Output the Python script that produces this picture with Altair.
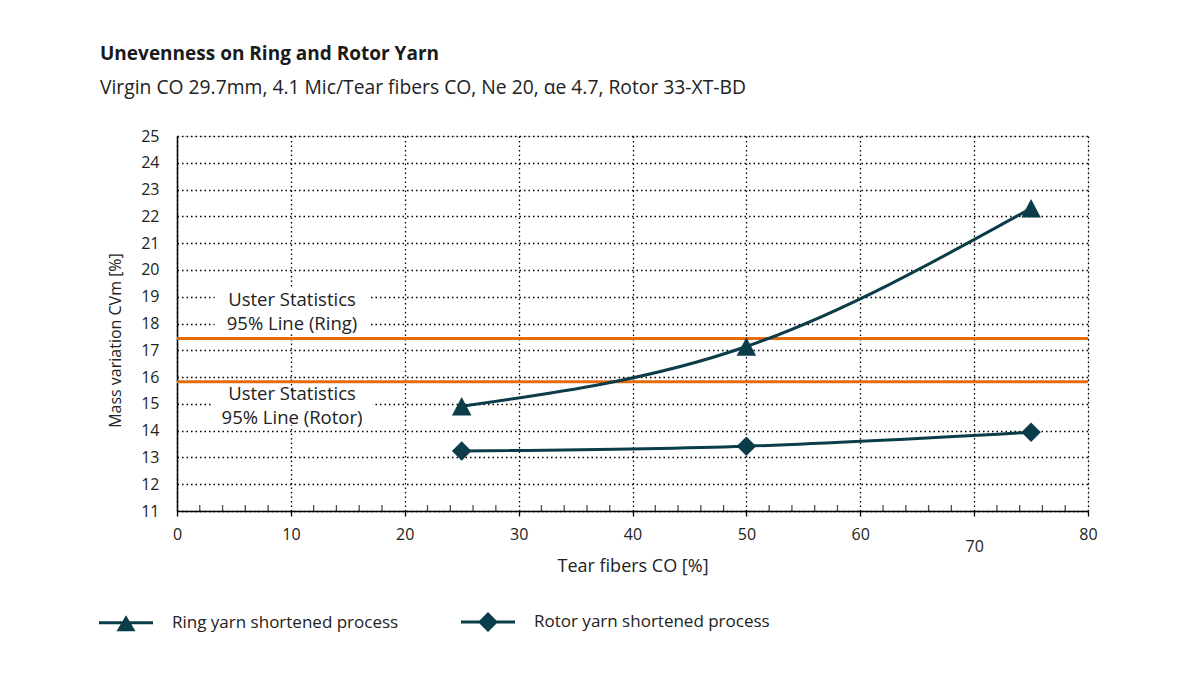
import altair as alt
import pandas as pd

# ---- data ----
tear_pct = [25, 50, 75]
ring_cv = [14.91, 17.14, 22.30]
rotor_cv = [13.24, 13.42, 13.94]
series_names = ["Ring yarn shortened process", "Rotor yarn shortened process"]

uster_values = [17.44, 15.83]
uster_lines = ["Uster Statistics", "95% Line (Ring)", "Uster Statistics", "95% Line (Rotor)"]
line_x = [10.1, 10.1, 10.1, 10.1]
line_y = [18.87, 17.99, 15.36, 14.46]
box_x1 = [3.3, 3.1]
box_x2 = [16.8, 17.2]
box_y1 = [17.62, 14.2]
box_y2 = [19.3, 15.45]

x_ticks = [0, 10, 20, 30, 40, 50, 60, 70, 80]
x_minor = [v for v in range(2, 80, 2) if v % 10 != 0]
y_ticks = list(range(11, 26))

TEAL = "#0b3c49"
ORANGE = "#e46c0a"
FONT = "Open Sans"

rows = []
for name, vals in zip(series_names, [ring_cv, rotor_cv]):
    for x, y in zip(tear_pct, vals):
        rows.append({"series": name, "x": x, "y": y})
df = pd.DataFrame(rows)

rules_df = pd.DataFrame({"y": uster_values})
boxes_df = pd.DataFrame({"x1": box_x1, "x2": box_x2, "y1": box_y1, "y2": box_y2})
text_df = pd.DataFrame({"x": line_x, "y": line_y, "text": uster_lines})
minor_df = pd.DataFrame({"x": x_minor, "y": [11] * len(x_minor)})

xscale = alt.Scale(domain=[0, 80], nice=False, zero=False)
yscale = alt.Scale(domain=[11, 25], nice=False, zero=False)

xaxis = alt.Axis(values=x_ticks, title="Tear fibers CO [%]", grid=True,
                 gridColor="#000", gridDash=[1.5, 3], gridWidth=1.3,
                 tickColor="#000", tickSize=5, tickWidth=1.3,
                 domainColor="#000", domainWidth=1.5,
                 labelFont=FONT, labelFontSize=16, labelColor="#222",
                 labelPadding={"condition": {"test": "datum.value == 70", "value": 22}, "value": 10},
                 labelOverlap=False, tickCount=len(x_ticks),
                 titleFont=FONT, titleFontSize=18, titleFontWeight="normal", titleColor="#222",
                 titlePadding=3, labelFlush=False)
yaxis = alt.Axis(values=y_ticks, title="Mass variation CVm [%]", grid=True,
                 gridColor="#000", gridDash=[1.5, 3], gridWidth=1.3,
                 ticks=False, domainColor="#000", domainWidth=1.5,
                 labelFont=FONT, labelFontSize=16, labelColor="#222", labelPadding=18,
                 labelOverlap=False, tickCount=len(y_ticks),
                 titleFont=FONT, titleFontSize=16, titleFontWeight="normal", titleColor="#222",
                 titlePadding=17, titleY=204, labelFlush=False)

X = lambda f: alt.X(f, scale=xscale, axis=xaxis)
Y = lambda f: alt.Y(f, scale=yscale, axis=yaxis)

boxes = alt.Chart(boxes_df).mark_rect(color="white").encode(
    x=X("x1:Q"), x2="x2:Q", y=Y("y1:Q"), y2="y2:Q")

texts = alt.Chart(text_df).mark_text(font=FONT, fontSize=18.5, color="#222",
                                      align="center", baseline="middle").encode(
    x=X("x:Q"), y=Y("y:Q"), text="text:N")

rules = alt.Chart(rules_df).mark_rule(color=ORANGE, strokeWidth=3).encode(y=Y("y:Q"))

minor = alt.Chart(minor_df).mark_tick(color="#000", size=6, thickness=1.3, yOffset=-3,
                                      orient="vertical").encode(x=X("x:Q"), y=Y("y:Q"))

lines = alt.Chart(df).mark_line(interpolate="natural", color=TEAL, strokeWidth=3).encode(
    x=X("x:Q"), y=Y("y:Q"), detail="series:N")

tri_path = "M0,-0.95L1,0.95L-1,0.95Z"
leg_tri = "M-2.7,-0.15L2.7,-0.15L2.7,0.15L-2.7,0.15ZM0,-0.75L0.95,0.85L-0.95,0.85Z"
leg_dia = "M-2.7,-0.15L2.7,-0.15L2.7,0.15L-2.7,0.15ZM0,-1L1,0L0,1L-1,0Z"

points = alt.Chart(df).mark_point(filled=True, opacity=1, size=380, color=TEAL).encode(
    x=X("x:Q"), y=Y("y:Q"),
    shape=alt.Shape("series:N",
                    scale=alt.Scale(domain=series_names, range=[tri_path, "diamond"]),
                    legend=None))

legend_layer = alt.Chart(df).mark_point(filled=True, color=TEAL, opacity=0, size=1).encode(
    x=X("x:Q"), y=Y("y:Q"),
    shape=alt.Shape("series:N",
                    scale=alt.Scale(domain=series_names, range=[leg_tri, leg_dia]),
                    legend=alt.Legend(
                        title=None, orient="none", direction="horizontal",
                        legendX=-62, legendY=475, symbolSize=400,
                        labelFont=FONT, labelFontSize=17, labelColor="#222", labelLimit=0,
                        labelOffset=35, columnPadding=59, padding=0,
                        symbolFillColor=TEAL, symbolOpacity=1)))

chart = alt.layer(boxes, texts, rules, minor, lines, legend_layer, points).resolve_scale(
    shape="independent"
).properties(
    width=911, height=375,
    title=alt.TitleParams(
        "Unevenness on Ring and Rotor Yarn",
        subtitle="Virgin CO 29.7mm, 4.1 Mic/Tear fibers CO, Ne 20, αe 4.7, Rotor 33-XT-BD",
        anchor="start", frame="group", dx=-77, offset=30,
        font=FONT, fontSize=19, fontWeight="bold", color="#1a1a1a",
        subtitleFont=FONT, subtitleFontSize=19.3, subtitleColor="#222", subtitlePadding=15),
    autosize=alt.AutoSizeParams(type="none"),
    padding={"left": 177, "top": 136, "right": 112, "bottom": 164},
).configure_view(stroke="#000", strokeWidth=1.5).configure(background="white")

chart.save("out.html", embed_options={"renderer": "svg", "actions": False})
